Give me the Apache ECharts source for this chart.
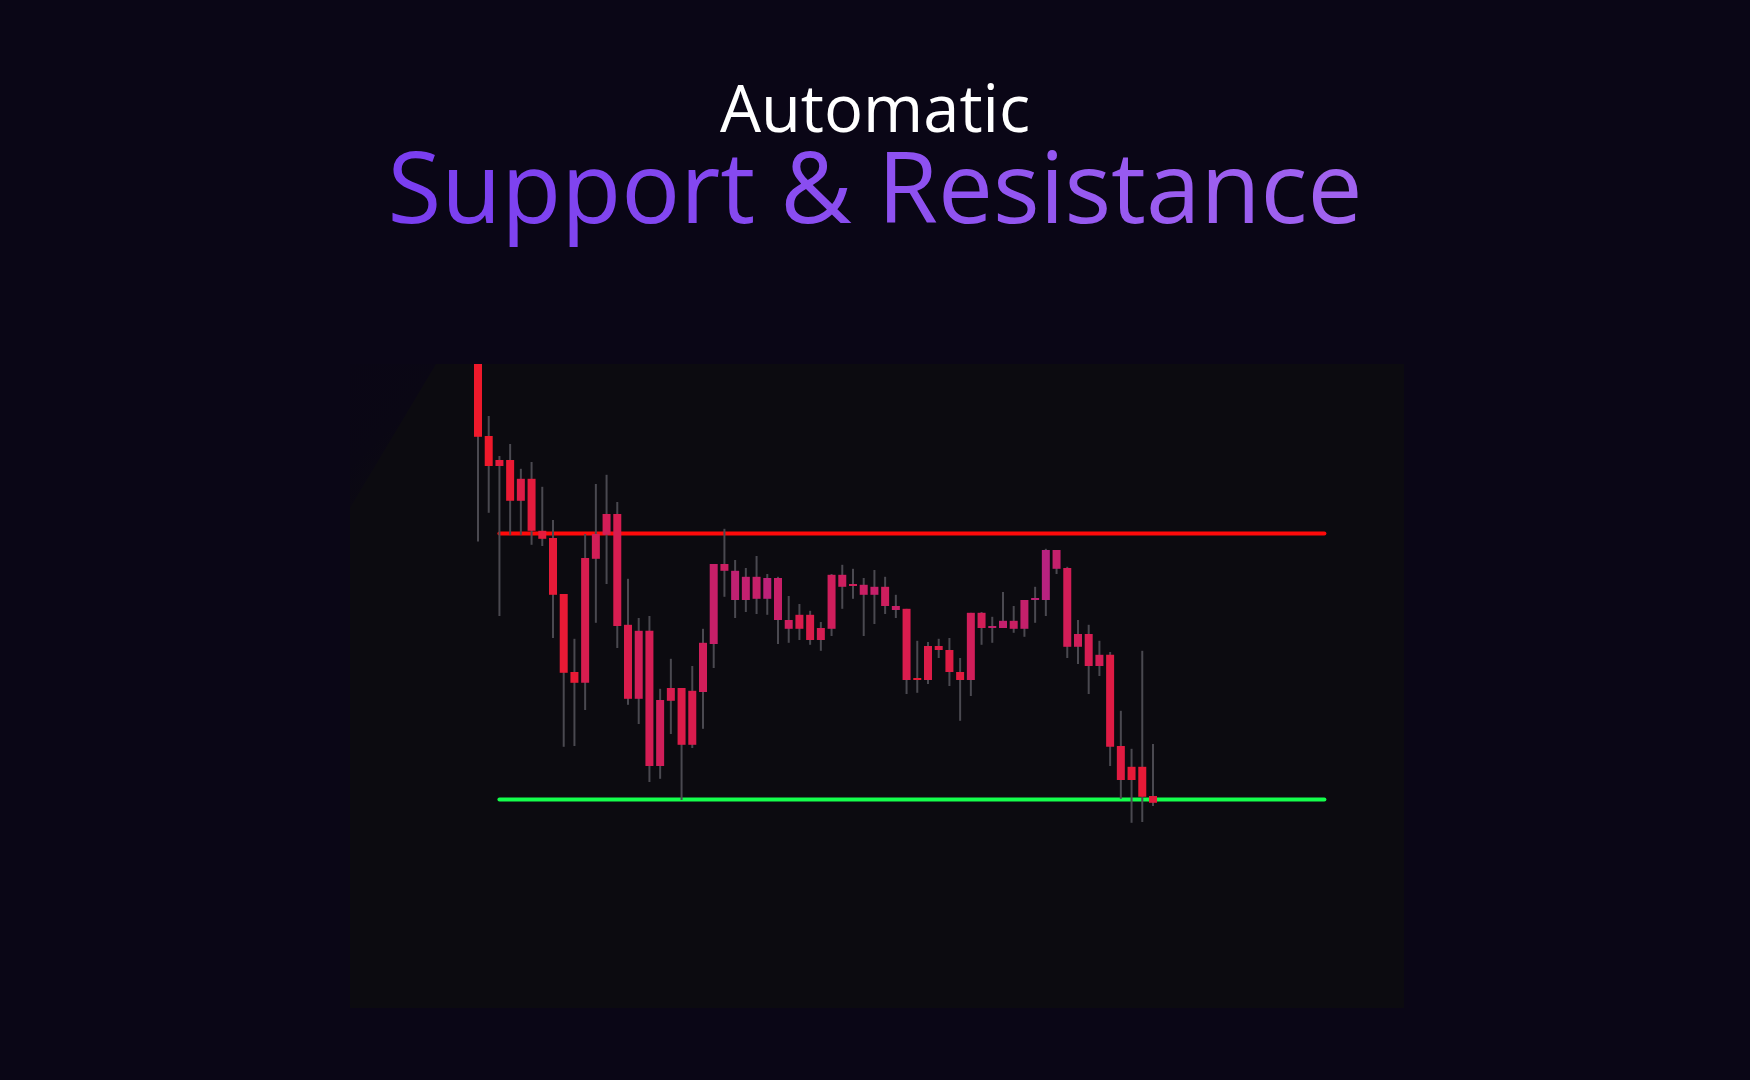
<!DOCTYPE html>
<html>
<head>
<meta charset="utf-8">
<script src="https://cdn.jsdelivr.net/npm/echarts@6/dist/echarts.min.js"></script>
<style>
html,body{margin:0;padding:0;background:#0a0616;}
#chart{width:1750px;height:1080px;}
</style>
</head>
<body>
<div id="chart"></div>
<script>
// ---- data (price units) ----
const opens  = [161.0,143.0,135.5,137.0,126.8,132.3,119.3,117.5,103.5,84.0, 81.3,112.3,118.3,123.5,95.8,77.3,94.3,60.5,76.8,80.0, 65.8,79.0,91.0,111.0,109.3,102.0,107.8,102.3,107.5,97.0, 94.8,98.3,92.0,94.8,108.3,105.5,105.8,103.3,105.3,100.5, 99.8,82.0,82.0,90.5,89.5,84.0,82.0,98.8,95.5,95.0, 96.8,94.8,102.0,102.0,114.5,110.0,90.3,93.5,85.5,88.3, 65.5,57.0,60.3,53.0];
const closes = [142.8,135.5,137.0,126.8,132.3,119.3,117.3,103.3,83.8,81.3, 112.5,118.5,123.5,95.5,77.3,94.3,60.5,77.0,80.0,65.8, 79.3,91.3,111.0,109.3,102.0,107.8,102.3,107.5,97.0,94.8, 98.3,92.0,95.0,108.3,105.3,106.0,103.3,105.3,100.5,99.5, 82.0,82.5,90.5,89.5,84.0,82.0,98.8,95.0,95.0,96.8, 94.8,102.0,102.5,114.5,109.8,90.3,93.5,85.5,88.3,65.3, 57.0,60.3,52.8,51.3];
const lows   = [116.6,123.8,98.0,118.3,118.3,115.8,115.5,92.5,65.3,65.5, 74.5,96.3,106.0,90.0,75.8,71.0,56.5,57.3,68.5,52.0, 65.0,69.8,85.0,102.8,97.5,99.0,98.5,98.3,91.0,91.3, 92.0,90.8,89.3,93.0,99.8,102.3,93.0,96.0,98.5,97.5, 78.5,78.8,81.0,87.5,80.5,71.8,78.0,90.8,91.3,95.0, 93.8,92.8,96.3,98.0,108.5,87.5,86.0,78.5,83.0,60.5, 52.3,46.3,46.5,50.5];
const highs  = [161.0,148.0,138.0,141.0,134.8,136.5,130.3,122.0,103.5,92.3, 118.5,131.0,133.3,126.5,107.3,97.5,98.0,79.8,87.3,80.0, 85.5,94.8,111.0,119.8,112.0,110.0,113.0,108.5,107.8,103.0, 101.0,99.3,96.5,108.5,110.8,109.8,107.5,109.5,107.8,103.3, 99.8,91.8,91.5,92.3,92.5,87.5,98.8,99.0,97.8,104.0, 100.5,102.0,105.3,114.8,114.5,110.3,97.0,95.8,91.8,89.0, 74.3,64.8,89.3,66.0];
const resistanceLevel = 118.6;
const supportLevel = 52.1;
const levelFrom = 2;
const levelTo = 79;
const titleTop = 'Automatic';
const titleMain = 'Support & Resistance';

// ---- momentum-based tint (red when falling, violet when rising) ----
function momentum(cl, n) {
  return cl.map(function (c, i) {
    let g = 0, l = 0;
    for (let k = Math.max(1, i - n + 1); k <= i; k++) {
      const d = cl[k] - cl[k - 1];
      if (d > 0) g += d; else l -= d;
    }
    return (g + l) === 0 ? 0 : g / (g + l);
  });
}
const mom = momentum(closes, 8);
function mix(a, b, t) {
  const c = a.map(function (v, j) { return Math.round(v + (b[j] - v) * t); });
  return 'rgb(' + c.join(',') + ')';
}
function tint(t) {
  return mix([243, 24, 38], [172, 36, 145], 0.05 + 0.9 * t);
}

// per-character violet gradient for the main title (rich text)
const chars = titleMain.split('');
const rich = {};
let richText = '';
chars.forEach(function (ch, i) {
  const key = 'c' + i;
  rich[key] = {fill: mix([122, 62, 240], [160, 98, 240], i / (chars.length - 1)),
    font: '400 98px "Open Sans"'};
  richText += '{' + key + '|' + ch + '}';
});

const candleData = closes.map(function (c, i) { return [i, opens[i], c, lows[i], highs[i]]; });

const chart = echarts.init(document.getElementById('chart'), null, {renderer: 'canvas'});

const step = 10.714;
const gridLeft = 478 - step;          // x = -1
const gridWidth = step * 81;          // -1 .. 80

chart.setOption({
  backgroundColor: '#0a0616',
  animation: false,
  grid: {left: gridLeft, top: 364, width: gridWidth, height: 644, containLabel: false},
  xAxis: {type: 'value', min: -1, max: 80, show: false},
  yAxis: {type: 'value', min: 0, max: 161, show: false},
  graphic: [
    {type: 'rect', z: 0, shape: {x: 350, y: 364, width: 1054, height: 644}, style: {fill: '#0c0b10'}},
    {type: 'polygon', z: 0, shape: {points: [[350, 364], [436, 364], [350, 508]]},
      style: {fill: new echarts.graphic.LinearGradient(0, 0, 0.85, 0.5, [
        {offset: 0, color: '#0a0615'}, {offset: 0.7, color: '#0a0714'}, {offset: 1, color: '#0b0912'}])}},
    {type: 'text', z: 5, left: 'center', top: 81,
      style: {text: titleTop, font: '400 65px "Open Sans"', fill: '#ffffff'}},
    {type: 'text', z: 5, left: 'center', top: 146,
      style: {text: richText, rich: rich, font: '400 98px "Open Sans"', fill: '#8a4ef0'}}
  ],
  series: [
    {
      type: 'line', z: 3, symbol: 'none', silent: true,
      data: [[levelFrom, resistanceLevel], [levelTo, resistanceLevel]],
      lineStyle: {color: '#ff0a0a', width: 4, cap: 'round'}
    },
    {
      type: 'line', z: 3, symbol: 'none', silent: true,
      data: [[levelFrom, supportLevel], [levelTo, supportLevel]],
      lineStyle: {color: '#14ff4c', width: 4, cap: 'round'}
    },
    {
      type: 'custom', z: 4, clip: true,
      data: candleData,
      encode: {x: 0, y: [1, 2, 3, 4]},
      renderItem: function (params, api) {
        const i = api.value(0);
        const pO = api.coord([i, api.value(1)]);
        const pC = api.coord([i, api.value(2)]);
        const pL = api.coord([i, api.value(3)]);
        const pH = api.coord([i, api.value(4)]);
        const x = pO[0];
        const top = Math.min(pO[1], pC[1]);
        const h = Math.max(Math.abs(pO[1] - pC[1]), 2);
        return {
          type: 'group',
          children: [
            {type: 'rect', shape: {x: x - 1, y: pH[1], width: 2, height: pL[1] - pH[1]}, style: {fill: '#4a4950'}},
            {type: 'rect', shape: {x: x - 4, y: top, width: 8, height: h}, style: {fill: tint(mom[params.dataIndex])}}
          ]
        };
      }
    }
  ]
});
</script>
</body>
</html>
